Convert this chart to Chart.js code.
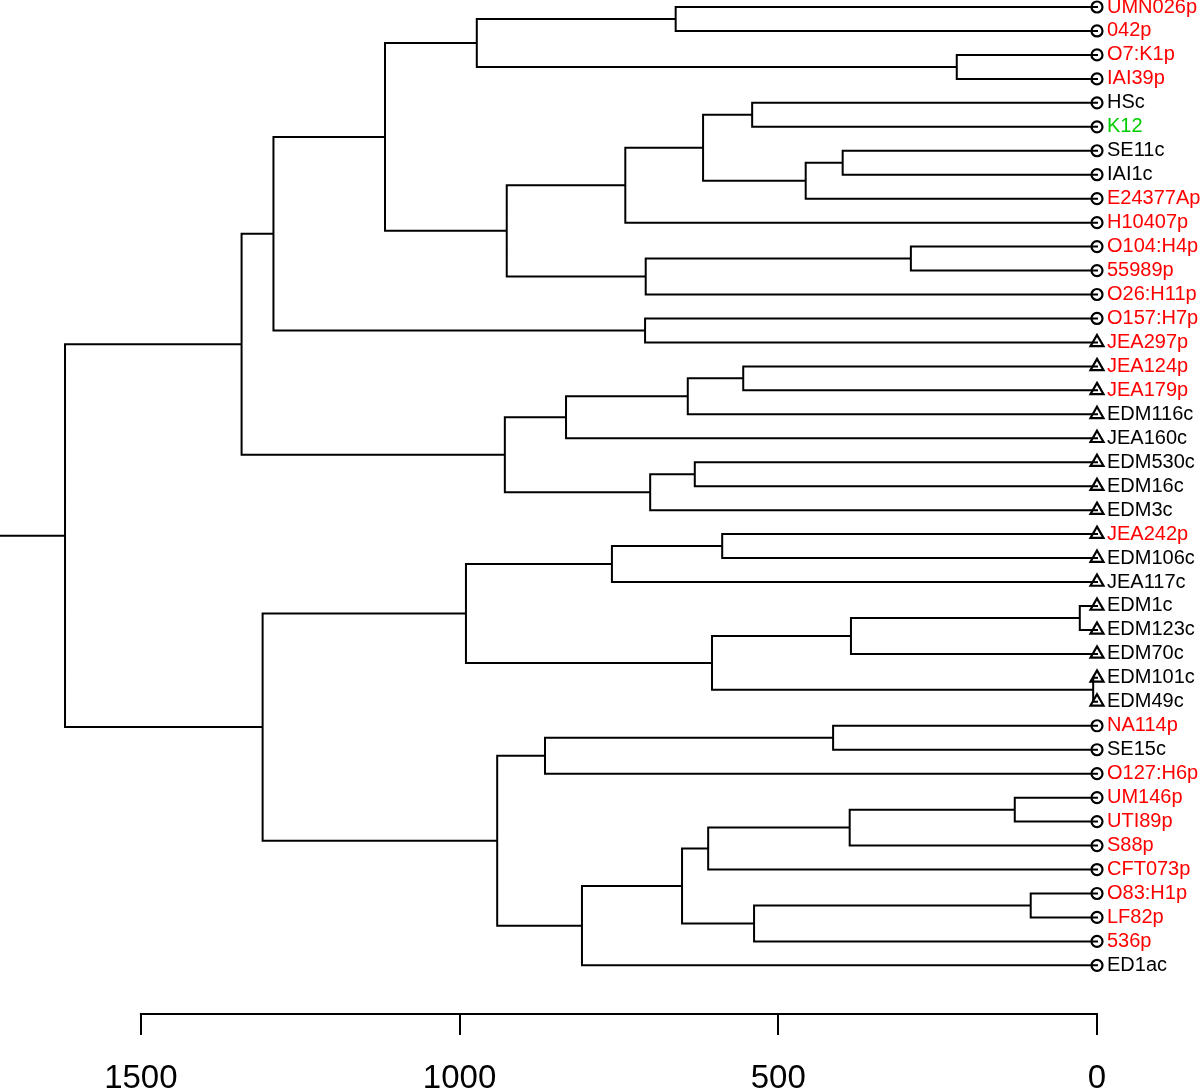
<!DOCTYPE html>
<html><head><meta charset="utf-8">
<script src="https://cdn.jsdelivr.net/npm/chart.js@4"></script>
<style>html,body{margin:0;padding:0;background:#fff;overflow:hidden}</style>
</head><body>
<canvas id="c" width="1200" height="1089"></canvas>
<script>
// Leaves, top to bottom
const leafLabels = ['UMN026p','042p','O7:K1p','IAI39p','HSc','K12','SE11c','IAI1c','E24377Ap','H10407p',
  'O104:H4p','55989p','O26:H11p','O157:H7p','JEA297p','JEA124p','JEA179p','EDM116c','JEA160c','EDM530c',
  'EDM16c','EDM3c','JEA242p','EDM106c','JEA117c','EDM1c','EDM123c','EDM70c','EDM101c','EDM49c',
  'NA114p','SE15c','O127:H6p','UM146p','UTI89p','S88p','CFT073p','O83:H1p','LF82p','536p','ED1ac'];
const leafGroup = ['p','p','p','p','c','k','c','c','p','p',
  'p','p','p','p','p','p','p','c','c','c',
  'c','c','p','c','c','c','c','c','c','c',
  'p','c','p','p','p','p','p','p','p','p','c'];
const leafShape = ['o','o','o','o','o','o','o','o','o','o',
  'o','o','o','o','t','t','t','t','t','t',
  't','t','t','t','t','t','t','t','t','t',
  'o','o','o','o','o','o','o','o','o','o','o'];
// R-style merge table: negative = leaf number (1-based), positive = earlier merge row (1-based)
const mergeLeft  = [-1,-3,1,-5,-7,5,4,7,-11,9,8,3,-14,12,-16,15,16,-20,18,17,14,-23,22,-26,24,-29,25,23,-31,29,-34,31,32,-38,34,33,36,30,28,21];
const mergeRight = [-2,-4,2,-6,-8,-9,6,-10,-12,-13,10,11,-15,13,-17,-18,-19,-21,-22,19,20,-24,-25,-27,-28,-30,26,27,-32,-33,-35,-36,-37,-39,-40,35,-41,37,38,39];
const mergeHeight = [661,220,973,541,399,457,618,740,292,708,926,1117,709,1292,555,642,833,631,701,929,1342,588,761,27,386,6,604,990,414,866,129,388,610,104,538,651,808,941,1309,1619];
const xTickValues = [0,500,1000,1500];
const xLimit = 1721;     // height at the left edge of the plot (root stem end)
const yLimit = 42.03;    // leaf-index position of the axis line

const groupColor = {p:'#FF0000', c:'#000000', k:'#00CD00'};

// Build dendrogram segments from the merge table
const nodeY = [], nodeH = [];
function nodePos(ref){ return ref < 0 ? {y: -ref - 1, h: 0} : {y: nodeY[ref - 1], h: nodeH[ref - 1]}; }
const treePts = [];
for (let i = 0; i < mergeHeight.length; i++) {
  const a = nodePos(mergeLeft[i]), b = nodePos(mergeRight[i]), h = mergeHeight[i];
  treePts.push({x: a.h, y: a.y}, {x: h, y: a.y}, {x: h, y: b.y}, {x: b.h, y: b.y}, {x: null, y: null});
  nodeY[i] = (a.y + b.y) / 2; nodeH[i] = h;
}
const last = mergeHeight.length - 1;
treePts.push({x: nodeH[last], y: nodeY[last]}, {x: xLimit, y: nodeY[last]});

const leafPts = leafLabels.map((_, i) => ({x: 0, y: i}));
const axisPts = [{x: xTickValues[0], y: yLimit}, {x: xTickValues[xTickValues.length - 1], y: yLimit}];

const FONT = "'Liberation Sans', Arial, Helvetica, sans-serif";

new Chart(document.getElementById('c'), {
  type: 'scatter',
  data: {
    datasets: [
      {
        data: leafPts, showLine: false,
        pointStyle: ctx => leafShape[ctx.dataIndex] === 't' ? 'triangle' : 'circle',
        pointRadius: ctx => leafShape[ctx.dataIndex] === 't' ? 7.5 : 5.5,
        pointHoverRadius: ctx => leafShape[ctx.dataIndex] === 't' ? 7.5 : 5.5,
        pointBorderColor: '#000', pointBackgroundColor: 'rgba(0,0,0,0)', pointBorderWidth: 2.2,
        clip: false
      },
      {
        data: treePts, showLine: true, spanGaps: false, pointRadius: 0, pointHoverRadius: 0,
        borderColor: '#000', borderWidth: 2, borderJoinStyle: 'miter', borderCapStyle: 'square',
        clip: false
      },
      {
        data: axisPts, showLine: true, pointRadius: 0, pointHoverRadius: 0,
        borderColor: '#000', borderWidth: 2, borderCapStyle: 'square',
        clip: false
      }
    ]
  },
  options: {
    responsive: false, animation: false, devicePixelRatio: 1,
    events: [],
    layout: {autoPadding: false, padding: {top: 7, left: 0, right: 0, bottom: 0}},
    plugins: {legend: {display: false}, tooltip: {enabled: false}},
    scales: {
      x: {
        type: 'linear', position: 'bottom', reverse: true, min: 0, max: xLimit, bounds: 'data',
        border: {display: false},
        grid: {display: true, drawOnChartArea: false, drawTicks: true, tickLength: 21, lineWidth: 2, color: '#000'},
        afterBuildTicks: s => { s.ticks = xTickValues.map(v => ({value: v})); },
        afterFit: s => { s.height = 75; s.paddingLeft = 0; s.paddingRight = 0; s.paddingTop = 0; s.paddingBottom = 0; },
        ticks: {autoSkip: false, maxRotation: 0, padding: 24, color: '#000',
          font: {family: FONT, size: 33}, callback: v => String(v)}
      },
      y: {
        type: 'linear', position: 'right', reverse: true, min: 0, max: yLimit, bounds: 'data',
        border: {display: false},
        grid: {display: false, drawTicks: false},
        afterBuildTicks: s => { s.ticks = leafLabels.map((_, i) => ({value: i})); },
        afterFit: s => { s.width = 103; s.paddingTop = 0; s.paddingBottom = 0; s.paddingLeft = 0; s.paddingRight = 0; },
        ticks: {autoSkip: false, padding: 10, font: {family: FONT, size: 20},
          color: ctx => groupColor[leafGroup[ctx.index]] || '#000',
          callback: v => leafLabels[v]}
      }
    }
  }
});
</script>
</body></html>
